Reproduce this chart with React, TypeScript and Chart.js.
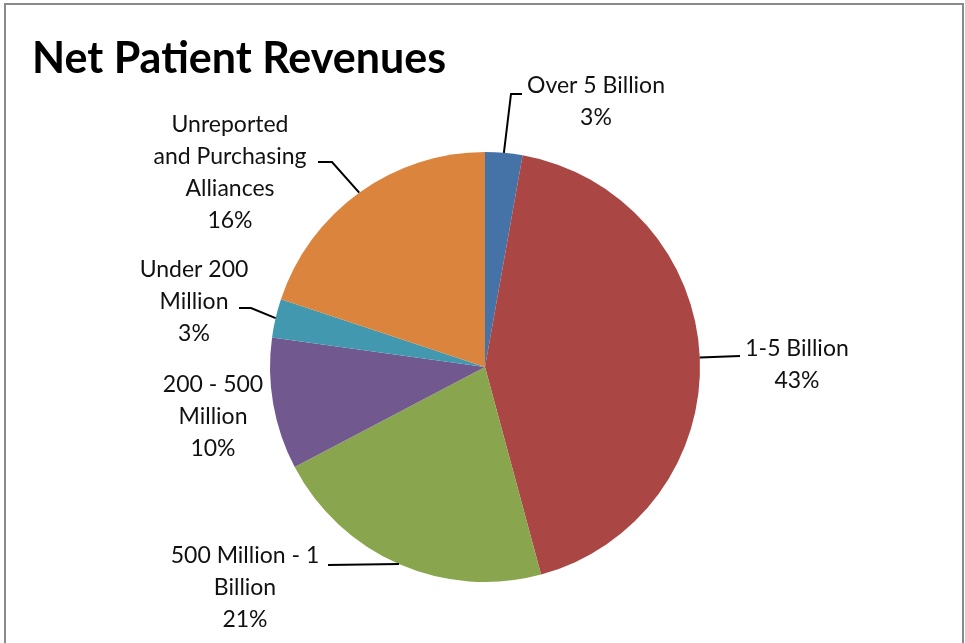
import React, { useEffect, useRef } from "react";
import { Chart, registerables } from "chart.js";

Chart.register(...registerables);

const categories = [
  "Over 5 Billion",
  "1-5 Billion",
  "500 Million - 1 Billion",
  "200 - 500 Million",
  "Under 200 Million",
  "Unreported and Purchasing Alliances",
];
// slice sizes (percent) as drawn
const values = [2.8, 43.0, 21.5, 9.9, 2.9, 19.9];
// printed percentage labels
const percentLabels = ["3%", "43%", "21%", "10%", "3%", "16%"];
const colors = ["#4572A7", "#AA4643", "#89A54E", "#71588F", "#4198AF", "#DB843D"];

// label layout: text lines (category split), centre x, first line y, leader polyline (label side first)
const labelLayout = [
  { lines: ["Over 5 Billion"], x: 596, y: 86, leader: [[522, 94], [511, 94]] },
  { lines: ["1-5 Billion"], x: 797, y: 349, leader: [[740, 356]] },
  { lines: ["500 Million - 1", "Billion"], x: 245, y: 556, leader: [[328, 565]] },
  { lines: ["200 - 500", "Million"], x: 213, y: 385, leader: null },
  { lines: ["Under 200", "Million"], x: 194, y: 270, leader: [[239, 308], [251, 308]] },
  { lines: ["Unreported", "and Purchasing", "Alliances"], x: 230, y: 125, leader: [[318, 162], [332, 162]] },
];

const FONT = "Lato, 'Open Sans', sans-serif";

export default function App() {
  const ref = useRef<HTMLCanvasElement>(null);
  useEffect(() => {
    const canvas = ref.current!;
    const decor = {
      id: "decor",
      afterDraw(chart: any) {
        const ctx = chart.ctx as CanvasRenderingContext2D;
        ctx.save();
        // frame
        ctx.strokeStyle = "#8a8a8a";
        ctx.lineWidth = 2;
        ctx.strokeRect(5, 4, 958, 700);
        // title
        ctx.fillStyle = "#000";
        ctx.font = `bold 43px ${FONT}`;
        ctx.textAlign = "left";
        ctx.textBaseline = "alphabetic";
        ctx.fillText("Net Patient Revenues", 32, 73);
        // labels
        const meta = chart.getDatasetMeta(0);
        ctx.font = `23px ${FONT}`;
        ctx.fillStyle = "#111";
        ctx.textAlign = "center";
        ctx.textBaseline = "middle";
        const lh = 32;
        labelLayout.forEach((lab, i) => {
          const lines = [...lab.lines, percentLabels[i]];
          lines.forEach((t, k) => ctx.fillText(t, lab.x, lab.y + k * lh));
          if (lab.leader) {
            const arc = meta.data[i] as any;
            const p = arc.getProps(["x", "y", "startAngle", "endAngle", "outerRadius"], true);
            const mid = (p.startAngle + p.endAngle) / 2;
            const ex = p.x + p.outerRadius * Math.cos(mid);
            const ey = p.y + p.outerRadius * Math.sin(mid);
            ctx.beginPath();
            ctx.strokeStyle = "#000";
            ctx.lineWidth = 2;
            ctx.moveTo(lab.leader[0][0], lab.leader[0][1]);
            for (let k = 1; k < lab.leader.length; k++) ctx.lineTo(lab.leader[k][0], lab.leader[k][1]);
            ctx.lineTo(ex, ey);
            ctx.stroke();
          }
        });
        ctx.restore();
      },
    };
    const chart = new Chart(canvas, {
      type: "pie",
      data: {
        labels: categories,
        datasets: [
          {
            data: values,
            backgroundColor: colors,
            borderWidth: 0,
          },
        ],
      },
      options: {
        animation: false,
        responsive: false,
        layout: { padding: { top: 152, bottom: 61, left: 270, right: 265 } },
        plugins: {
          legend: { display: false },
          title: { display: false },
          tooltip: { enabled: false },
        },
      },
      plugins: [decor],
    });
    return () => chart.destroy();
  }, []);
  return (
    <div style={{ position: "fixed", left: 0, top: 0, width: 965, height: 643, background: "#fff" }}>
      <canvas ref={ref} width={965} height={643} style={{ width: 965, height: 643, display: "block" }} />
    </div>
  );
}
